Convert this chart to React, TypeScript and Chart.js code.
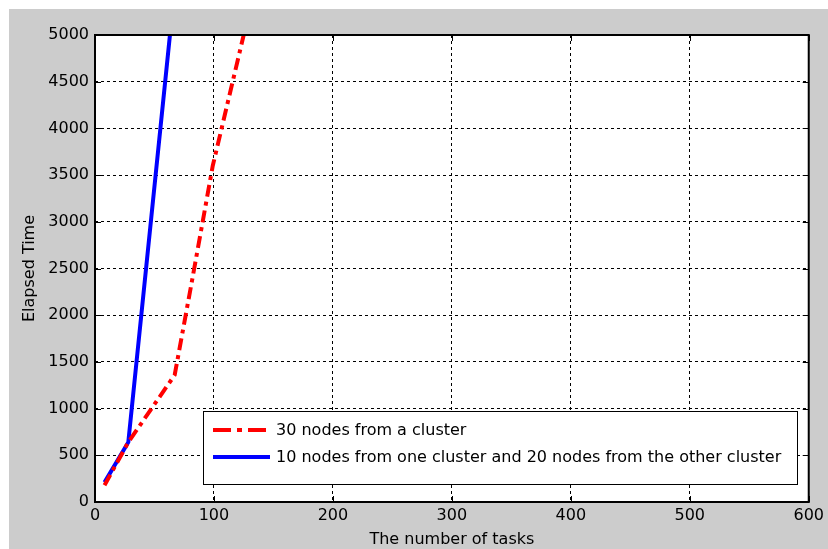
import React, { useEffect, useRef } from "react";
import { Chart, registerables } from "chart.js";

Chart.register(...registerables);

// ---- data ----
const xTickValues = [0, 100, 200, 300, 400, 500, 600];
const yTickValues = [0, 500, 1000, 1500, 2000, 2500, 3000, 3500, 4000, 4500, 5000];
const redTasks = [8, 28, 67, 82, 99, 125];
const redTime = [180, 640, 1360, 2400, 3600, 5000];
const blueTasks = [8, 28, 63];
const blueTime = [210, 640, 5000];
const seriesLabels = [
  "30 nodes from a cluster",
  "10 nodes from one cluster and 20 nodes from the other cluster",
];
const xTitle = "The number of tasks";
const yTitle = "Elapsed Time";

const FONT = "DejaVu Sans";

const framePlugin = {
  id: "matlabFrame",
  beforeDraw(chart: any) {
    const { ctx, chartArea: a } = chart;
    ctx.save();
    ctx.fillStyle = "#ffffff";
    ctx.fillRect(a.left, a.top, a.right - a.left, a.bottom - a.top);
    ctx.restore();
  },
  afterDraw(chart: any) {
    const { ctx, chartArea: a } = chart;
    const xs = chart.scales.x;
    const ys = chart.scales.y;
    ctx.save();
    ctx.setLineDash([]);
    ctx.strokeStyle = "#000";
    ctx.lineWidth = 1;
    const tl = 6;
    ctx.beginPath();
    xs.ticks.forEach((t: any) => {
      const px = Math.round(xs.getPixelForValue(t.value)) + 0.5;
      ctx.moveTo(px, a.bottom);
      ctx.lineTo(px, a.bottom - tl);
      ctx.moveTo(px, a.top);
      ctx.lineTo(px, a.top + tl);
    });
    ys.ticks.forEach((t: any) => {
      const py = Math.round(ys.getPixelForValue(t.value)) + 0.5;
      ctx.moveTo(a.left, py);
      ctx.lineTo(a.left + tl, py);
      ctx.moveTo(a.right, py);
      ctx.lineTo(a.right - tl, py);
    });
    ctx.stroke();
    ctx.lineWidth = 2;
    ctx.strokeRect(a.left, a.top, a.right - a.left, a.bottom - a.top);

    // legend box
    const bx = a.left + 108;
    const by = a.top + 376;
    const bw = 594;
    const bh = 73;
    ctx.fillStyle = "#fff";
    ctx.fillRect(bx, by, bw, bh);
    ctx.lineWidth = 1;
    ctx.strokeStyle = "#000";
    ctx.strokeRect(bx + 0.5, by + 0.5, bw, bh);
    const ds = chart.data.datasets;
    const rows = [by + 19, by + 46];
    ds.forEach((d: any, i: number) => {
      ctx.save();
      ctx.strokeStyle = d.borderColor;
      ctx.lineWidth = d.borderWidth;
      ctx.setLineDash(i === 0 ? [18, 6, 5, 6] : []);
      ctx.beginPath();
      ctx.moveTo(bx + 10, rows[i]);
      ctx.lineTo(bx + (i === 0 ? 63 : 67), rows[i]);
      ctx.stroke();
      ctx.restore();
      ctx.fillStyle = "#000";
      ctx.font = `16px "${FONT}"`;
      ctx.textAlign = "left";
      ctx.textBaseline = "middle";
      ctx.fillText(d.label, bx + 73, rows[i] + 1);
    });
    ctx.restore();
  },
};

export default function App() {
  const ref = useRef<HTMLCanvasElement | null>(null);
  useEffect(() => {
    if (!ref.current) return;
    const chart = new Chart(ref.current, {
      type: "line",
      data: {
        datasets: [
          {
            label: seriesLabels[0],
            data: redTasks.map((x, i) => ({ x, y: redTime[i] })),
            borderColor: "#ff0000",
            borderWidth: 4,
            borderDash: [12, 5, 4, 5],
            pointRadius: 0,
            tension: 0,
            fill: false,
          },
          {
            label: seriesLabels[1],
            data: blueTasks.map((x, i) => ({ x, y: blueTime[i] })),
            borderColor: "#0000ff",
            borderWidth: 4,
            pointRadius: 0,
            tension: 0,
            fill: false,
          },
        ],
      },
      options: {
        animation: false,
        responsive: false,
        layout: { padding: { top: 26, right: 18, left: 0, bottom: 0 } },
        plugins: { legend: { display: false }, tooltip: { enabled: false } },
        font: { family: FONT, size: 16 } as any,
        scales: {
          x: {
            type: "linear",
            min: 0,
            max: 600,
            afterBuildTicks: (s: any) => {
              s.ticks = xTickValues.map((v) => ({ value: v }));
            },
            afterFit: (s: any) => {
              s.height = 47;
            },
            ticks: {
              color: "#000",
              font: { family: FONT, size: 16 },
              padding: 4,
              maxRotation: 0,
              callback: (v: any) => String(v),
            },
            grid: { color: "#000", lineWidth: 1, drawTicks: false },
            border: { display: false, dash: [3, 3] },
            title: {
              display: true,
              text: xTitle,
              color: "#000",
              font: { family: FONT, size: 16 },
              padding: { top: 0, bottom: 0 },
            },
          },
          y: {
            type: "linear",
            min: 0,
            max: 5000,
            afterBuildTicks: (s: any) => {
              s.ticks = yTickValues.map((v) => ({ value: v }));
            },
            afterFit: (s: any) => {
              s.width = 86;
            },
            ticks: {
              color: "#000",
              font: { family: FONT, size: 16 },
              padding: 6,
              callback: (v: any) => String(v),
            },
            grid: { color: "#000", lineWidth: 1, drawTicks: false },
            border: { display: false, dash: [3, 3] },
            title: {
              display: true,
              text: yTitle,
              color: "#000",
              font: { family: FONT, size: 16 },
              padding: { top: 11, bottom: 0 },
            },
          },
        },
      },
      plugins: [framePlugin],
    } as any);
    return () => chart.destroy();
  }, []);
  return (
    <div
      style={{
        position: "absolute",
        left: 9,
        top: 9,
        width: 819,
        height: 540,
        background: "#cccccc",
      }}
    >
      <canvas ref={ref} width={819} height={540} style={{ display: "block" }} />
    </div>
  );
}
